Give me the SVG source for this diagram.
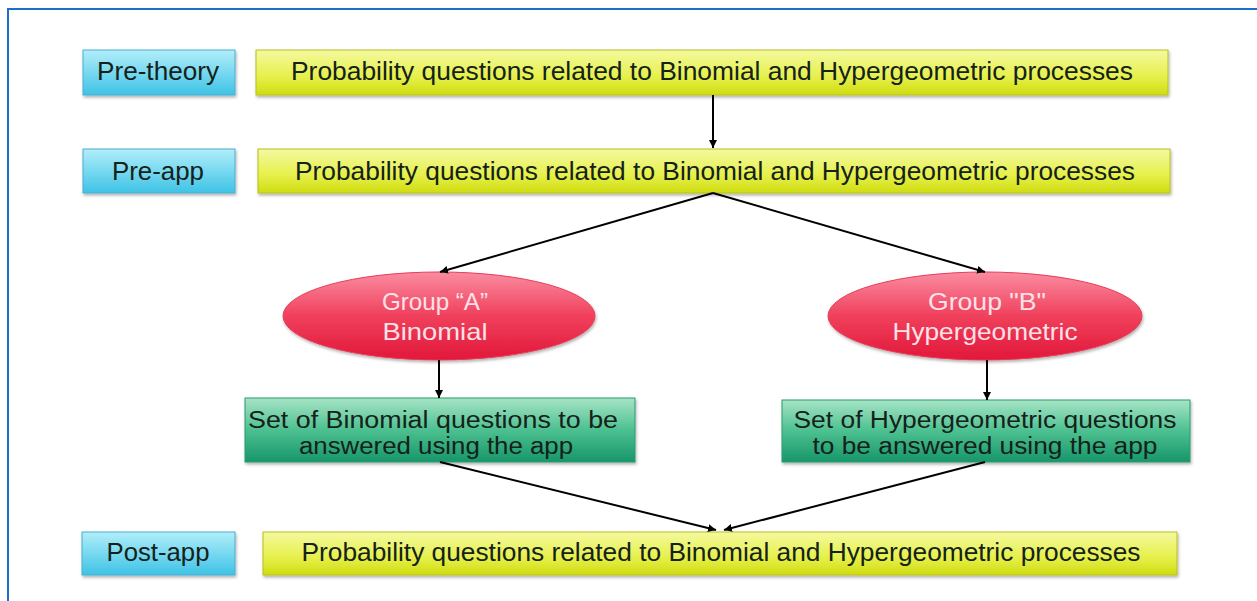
<svg xmlns="http://www.w3.org/2000/svg" width="1257" height="601" viewBox="0 0 1257 601">
<defs>
<linearGradient id="gCyan" x1="0" y1="0" x2="0" y2="1"><stop offset="0" stop-color="#b2eefa"/><stop offset="1" stop-color="#3ec3e6"/></linearGradient>
<linearGradient id="gYel" x1="0" y1="0" x2="0" y2="1"><stop offset="0" stop-color="#f4f9a0"/><stop offset="0.6" stop-color="#e6f04a"/><stop offset="1" stop-color="#cfdc10"/></linearGradient>
<linearGradient id="gGrn" x1="0" y1="0" x2="0" y2="1"><stop offset="0" stop-color="#a6e4c6"/><stop offset="0.5" stop-color="#4cc090"/><stop offset="1" stop-color="#17966a"/></linearGradient>
<linearGradient id="gRed" x1="0" y1="0" x2="0" y2="1"><stop offset="0" stop-color="#fa8ca0"/><stop offset="0.5" stop-color="#f0405c"/><stop offset="1" stop-color="#e2183a"/></linearGradient>
<filter id="sh" x="-10%" y="-20%" width="120%" height="150%"><feDropShadow dx="1" dy="2" stdDeviation="1.5" flood-color="#000" flood-opacity="0.3"/></filter>
<marker id="ah" markerWidth="10" markerHeight="10" refX="8" refY="5" orient="auto" markerUnits="userSpaceOnUse"><path d="M0,1 L8,5 L0,9 Z" fill="#000"/></marker>
<style>
.t{font-family:"Liberation Sans",Arial,sans-serif;font-size:25px;fill:#14221a;text-anchor:middle}
.s{font-family:"Liberation Sans",Arial,sans-serif;font-size:23px;fill:#14221a;text-anchor:middle}
.w{font-family:"Liberation Sans",Arial,sans-serif;font-size:24px;fill:#fde2e8;text-anchor:middle}
.c{stroke:#000;stroke-width:2;fill:none;marker-end:url(#ah)}
.bc{fill:url(#gCyan);stroke:#4aaed0;stroke-width:1;filter:url(#sh)}
.by{fill:url(#gYel);stroke:#b8c020;stroke-width:1;filter:url(#sh)}
.bg{fill:url(#gGrn);stroke:#2a9a70;stroke-width:1;filter:url(#sh)}
.be{fill:url(#gRed);stroke:#e83c58;stroke-width:1;filter:url(#sh)}
</style>
</defs>
<rect width="1257" height="601" fill="#fff"/>
<path d="M8,601 L8,9 L1257,9" stroke="#1f6fc5" stroke-width="2" fill="none"/>
<g id="pre-theory-label"><rect class="bc" x="83" y="50" width="152" height="45"/><text class="t" x="158" y="80" textLength="122" lengthAdjust="spacingAndGlyphs">Pre-theory</text></g>
<g id="pre-theory"><rect class="by" x="256" y="50" width="912" height="45"/><text class="t" x="712" y="80" textLength="842" lengthAdjust="spacingAndGlyphs">Probability questions related to Binomial and Hypergeometric processes</text></g>
<g id="pre-app-label"><rect class="bc" x="83" y="149" width="152" height="44"/><text class="t" x="158" y="180" textLength="92" lengthAdjust="spacingAndGlyphs">Pre-app</text></g>
<g id="pre-app"><rect class="by" x="258" y="149" width="912" height="44"/><text class="t" x="715" y="180" textLength="840" lengthAdjust="spacingAndGlyphs">Probability questions related to Binomial and Hypergeometric processes</text></g>
<g id="group-a"><ellipse class="be" cx="439" cy="316" rx="156" ry="44"/><text class="w" x="435" y="310" textLength="106" lengthAdjust="spacingAndGlyphs">Group “A”</text><text class="w" x="435" y="340" textLength="105" lengthAdjust="spacingAndGlyphs">Binomial</text></g>
<g id="group-b"><ellipse class="be" cx="985" cy="316" rx="157" ry="44"/><text class="w" x="987" y="310" textLength="118" lengthAdjust="spacingAndGlyphs">Group "B"</text><text class="w" x="985" y="340" textLength="185" lengthAdjust="spacingAndGlyphs">Hypergeometric</text></g>
<g id="set-a"><rect class="bg" x="245" y="398" width="390" height="64"/><text class="s" x="433" y="428" textLength="370" lengthAdjust="spacingAndGlyphs">Set of Binomial questions to be</text><text class="s" x="436" y="454" textLength="274" lengthAdjust="spacingAndGlyphs">answered using the app</text></g>
<g id="set-b"><rect class="bg" x="782" y="400" width="408" height="62"/><text class="s" x="985" y="428" textLength="383" lengthAdjust="spacingAndGlyphs">Set of Hypergeometric questions</text><text class="s" x="985" y="454" textLength="345" lengthAdjust="spacingAndGlyphs">to be answered using the app</text></g>
<g id="post-app-label"><rect class="bc" x="82" y="532" width="153" height="43"/><text class="t" x="158" y="561" textLength="103" lengthAdjust="spacingAndGlyphs">Post-app</text></g>
<g id="post-app"><rect class="by" x="263" y="532" width="914" height="43"/><text class="t" x="721" y="561" textLength="839" lengthAdjust="spacingAndGlyphs">Probability questions related to Binomial and Hypergeometric processes</text></g>
<g id="connectors">
<line class="c" x1="713" y1="95" x2="713" y2="148"/>
<line class="c" x1="713" y1="193" x2="440" y2="272"/>
<line class="c" x1="713" y1="193" x2="985" y2="272"/>
<line class="c" x1="439" y1="360" x2="439" y2="398"/>
<line class="c" x1="987" y1="360" x2="987" y2="400"/>
<line class="c" x1="440" y1="462" x2="716" y2="530"/>
<line class="c" x1="985" y1="462" x2="724" y2="530"/>
</g>
</svg>
